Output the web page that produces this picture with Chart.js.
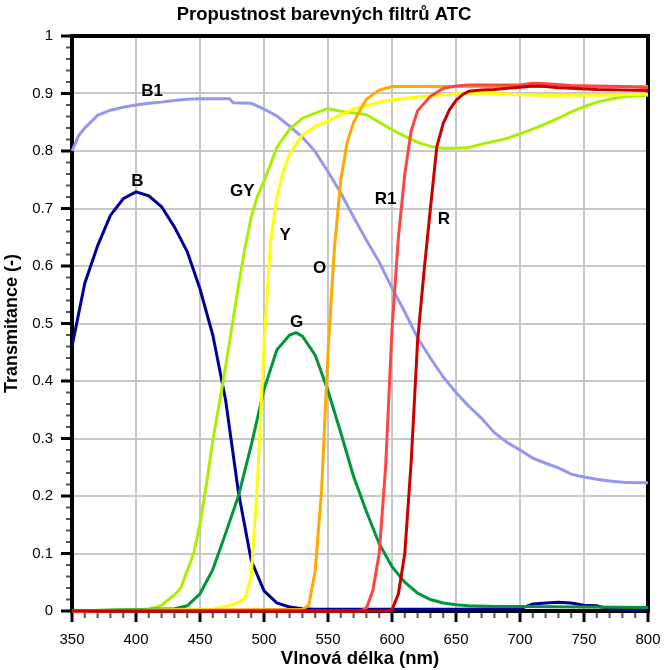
<!DOCTYPE html>
<html>
<head>
<meta charset="utf-8">
<script src="https://cdn.jsdelivr.net/npm/chart.js@4"></script>
<style>
  html, body { margin: 0; padding: 0; background: #fff; }
</style>
</head>
<body>
<canvas id="chart-atc" width="666" height="670"></canvas>
<script>
// Propustnost barevnych filtru ATC
const FONT = "'Liberation Sans', Arial, sans-serif";

// wavelengths (nm) and transmitance for each filter
const bNm = [350, 360, 370, 380, 390, 400, 410, 420, 430, 440, 450, 460, 470, 480, 490, 500, 510, 520, 530, 540, 560, 580, 600, 650, 700, 710, 720, 730, 740, 750, 760, 770, 800];
const bVal = [0.46, 0.57, 0.635, 0.688, 0.717, 0.729, 0.722, 0.703, 0.668, 0.625, 0.56, 0.48, 0.367, 0.207, 0.088, 0.035, 0.014, 0.007, 0.004, 0.003, 0.003, 0.003, 0.003, 0.003, 0.004, 0.012, 0.014, 0.015, 0.014, 0.01, 0.009, 0.003, 0.003];

const b1Nm = [350, 355, 360, 370, 380, 390, 400, 410, 420, 430, 440, 450, 460, 473, 476, 490, 500, 510, 520, 530, 540, 550, 560, 570, 580, 590, 600, 610, 620, 630, 640, 650, 660, 670, 680, 690, 700, 710, 720, 730, 740, 750, 760, 770, 780, 790, 800];
const b1Val = [0.80, 0.826, 0.84, 0.862, 0.871, 0.876, 0.88, 0.883, 0.885, 0.888, 0.89, 0.891, 0.891, 0.891, 0.884, 0.883, 0.873, 0.861, 0.843, 0.824, 0.799, 0.764, 0.727, 0.685, 0.645, 0.607, 0.562, 0.52, 0.475, 0.44, 0.407, 0.38, 0.356, 0.335, 0.31, 0.293, 0.28, 0.266, 0.257, 0.249, 0.238, 0.233, 0.229, 0.226, 0.224, 0.223, 0.223];

const gyNm = [350, 410, 415, 420, 430, 435, 440, 445, 450, 455, 460, 465, 470, 475, 480, 485, 490, 495, 500, 505, 510, 520, 530, 540, 550, 560, 570, 580, 590, 600, 610, 620, 630, 640, 650, 660, 670, 680, 690, 700, 710, 720, 730, 740, 750, 760, 770, 780, 790, 800];
const gyVal = [0, 0.003, 0.006, 0.01, 0.028, 0.04, 0.07, 0.1, 0.152, 0.22, 0.297, 0.36, 0.425, 0.495, 0.565, 0.63, 0.685, 0.722, 0.748, 0.776, 0.806, 0.838, 0.857, 0.866, 0.874, 0.869, 0.866, 0.863, 0.85, 0.837, 0.826, 0.815, 0.808, 0.805, 0.805, 0.806, 0.812, 0.817, 0.822, 0.83, 0.838, 0.847, 0.857, 0.868, 0.877, 0.885, 0.89, 0.894, 0.896, 0.897];

const yNm = [350, 460, 470, 480, 485, 490, 495, 500, 505, 510, 515, 520, 530, 540, 550, 560, 570, 580, 590, 600, 620, 640, 660, 680, 700, 720, 740, 760, 780, 800];
const yVal = [0, 0.003, 0.008, 0.015, 0.022, 0.06, 0.23, 0.46, 0.64, 0.72, 0.765, 0.795, 0.828, 0.843, 0.852, 0.863, 0.873, 0.879, 0.885, 0.889, 0.894, 0.898, 0.901, 0.9, 0.898, 0.897, 0.897, 0.897, 0.898, 0.899];

const gNm = [350, 430, 440, 450, 460, 470, 480, 490, 500, 510, 520, 525, 530, 540, 550, 560, 570, 580, 590, 600, 610, 620, 630, 640, 650, 660, 680, 700, 750, 800];
const gVal = [0, 0.004, 0.009, 0.03, 0.072, 0.135, 0.2, 0.288, 0.385, 0.454, 0.48, 0.484, 0.478, 0.445, 0.383, 0.31, 0.234, 0.173, 0.117, 0.077, 0.05, 0.031, 0.02, 0.014, 0.011, 0.009, 0.008, 0.008, 0.007, 0.006];

const oNm = [350, 530, 535, 540, 545, 550, 555, 560, 565, 570, 575, 580, 590, 600, 700, 800];
const oVal = [0, 0.003, 0.01, 0.07, 0.21, 0.45, 0.63, 0.75, 0.815, 0.85, 0.871, 0.89, 0.906, 0.912, 0.912, 0.912];

const r1Nm = [350, 575, 580, 585, 590, 595, 600, 605, 610, 615, 620, 630, 640, 650, 660, 680, 700, 710, 720, 740, 760, 780, 800];
const r1Val = [0, 0, 0.005, 0.035, 0.1, 0.25, 0.49, 0.65, 0.76, 0.835, 0.87, 0.895, 0.909, 0.913, 0.915, 0.915, 0.915, 0.918, 0.917, 0.914, 0.913, 0.912, 0.91];

const rNm = [350, 595, 600, 605, 610, 615, 620, 625, 630, 635, 640, 645, 650, 655, 660, 670, 680, 690, 700, 710, 720, 730, 740, 760, 780, 800];
const rVal = [0, 0, 0.002, 0.03, 0.1, 0.26, 0.47, 0.59, 0.70, 0.807, 0.848, 0.872, 0.888, 0.898, 0.904, 0.906, 0.907, 0.909, 0.911, 0.913, 0.912, 0.91, 0.909, 0.907, 0.906, 0.905];

// curve labels written on the plot
const tagText = ['B1', 'B', 'GY', 'Y', 'O', 'G', 'R1', 'R'];
const tagNm = [412.5, 401, 483, 516.5, 543.5, 525.5, 595, 640.5];
const tagVal = [0.906, 0.75, 0.733, 0.656, 0.598, 0.505, 0.719, 0.684];

const toPoints = (nm, val) => nm.map((x, i) => ({ x: x, y: val[i] }));

// first one is drawn on top
const series = [
    { label: 'R', nm: rNm, val: rVal, color: '#c80000' },
    { label: 'R1', nm: r1Nm, val: r1Val, color: '#ff4444' },
    { label: 'O', nm: oNm, val: oVal, color: '#ffaa00' },
    { label: 'Y', nm: yNm, val: yVal, color: '#ffff00' },
    { label: 'G', nm: gNm, val: gVal, color: '#009639' },
    { label: 'GY', nm: gyNm, val: gyVal, color: '#a8f000' },
    { label: 'B1', nm: b1Nm, val: b1Val, color: '#9696ee' },
    { label: 'B', nm: bNm, val: bVal, color: '#000099' },
];

const frame = {
    id: 'frame',
    beforeDatasetsDraw(chart) {
        const { ctx, chartArea: a, scales: { x, y } } = chart;
        ctx.save();
        // minor / major ticks, x
        for (let v = 350; v <= 800; v += 10) {
            const px = x.getPixelForValue(v);
            const major = v % 50 === 0;
            ctx.beginPath();
            ctx.strokeStyle = major ? '#000' : '#555';
            ctx.lineWidth = major ? 3 : 2;
            ctx.moveTo(px, a.bottom);
            ctx.lineTo(px, a.bottom + (major ? 11 : 7));
            ctx.stroke();
        }
        // minor / major ticks, y
        for (let i = 0; i <= 50; i++) {
            const py = y.getPixelForValue(i / 50);
            const major = i % 5 === 0;
            ctx.beginPath();
            ctx.strokeStyle = major ? '#000' : '#555';
            ctx.lineWidth = major ? 3 : 2;
            ctx.moveTo(a.left, py);
            ctx.lineTo(a.left - (major ? 11 : 6), py);
            ctx.stroke();
        }
        ctx.strokeStyle = '#000';
        ctx.lineWidth = 4;
        ctx.strokeRect(a.left, a.top, a.right - a.left, a.bottom - a.top);
        ctx.restore();
    },
    afterDatasetsDraw(chart) {
        const { ctx, scales: { x, y } } = chart;
        ctx.save();
        ctx.fillStyle = '#000';
        ctx.font = 'bold 17px ' + FONT;
        ctx.textAlign = 'center';
        ctx.textBaseline = 'alphabetic';
        tagText.forEach((t, i) => {
            ctx.fillText(t, x.getPixelForValue(tagNm[i]), y.getPixelForValue(tagVal[i]) + 6);
        });
        ctx.restore();
    }
};

const ctx = document.getElementById('chart-atc').getContext('2d');

const chart_atc = new Chart(ctx, {
    type: 'line',
    data: {
        datasets: series.map(s => ({
            label: s.label,
            data: toPoints(s.nm, s.val),
            borderColor: s.color,
            backgroundColor: s.color,
            borderWidth: 3,
            pointRadius: 0,
            tension: 0,
            fill: false,
            clip: 4,
        }))
    },
    options: {
        responsive: false,
        animation: false,
        events: [],
        layout: { padding: { left: 0, right: 18, top: 0, bottom: 0 } },
        plugins: {
            legend: { display: false },
            tooltip: { enabled: false },
            title: {
                display: true,
                text: 'Propustnost barevných filtrů ATC',
                color: '#000',
                font: { family: FONT, size: 18.5, weight: 'bold' },
                padding: { top: 4, bottom: 9.8 }
            }
        },
        scales: {
            x: {
                type: 'linear',
                min: 350,
                max: 800,
                afterFit: (s) => { s.height = 59; s.paddingLeft = 0; s.paddingRight = 0; },
                ticks: {
                    stepSize: 50,
                    color: '#000',
                    padding: 20,
                    maxRotation: 0,
                    font: { family: FONT, size: 15 }
                },
                grid: { color: '#c8c8c8', lineWidth: 2, drawTicks: false },
                border: { display: false },
                title: {
                    display: true,
                    text: 'Vlnová délka (nm)',
                    color: '#000',
                    font: { family: FONT, size: 18.5, weight: 'bold' },
                    padding: { top: 0, bottom: 0 }
                }
            },
            y: {
                min: 0,
                max: 1,
                afterFit: (s) => { s.width = 72; s.paddingTop = 0; s.paddingBottom = 0; },
                ticks: {
                    stepSize: 0.1,
                    color: '#000',
                    padding: 19,
                    font: { family: FONT, size: 15 },
                    callback: (v) => String(Math.round(v * 10) / 10)
                },
                grid: { color: '#c8c8c8', lineWidth: 2, drawTicks: false },
                border: { display: false },
                title: {
                    display: true,
                    text: 'Transmitance (-)',
                    color: '#000',
                    font: { family: FONT, size: 18, weight: 'bold' },
                    padding: { top: 1, bottom: 0 }
                }
            }
        }
    },
    plugins: [frame]
});
</script>
</body>
</html>
